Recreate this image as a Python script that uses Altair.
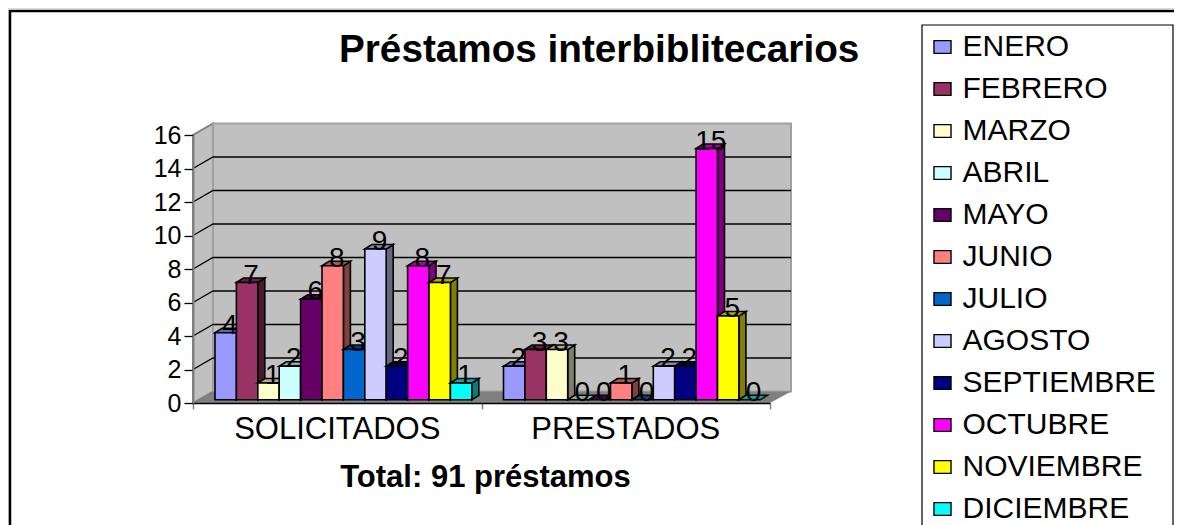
import altair as alt
import pandas as pd

months = ["ENERO", "FEBRERO", "MARZO", "ABRIL", "MAYO", "JUNIO", "JULIO", "AGOSTO",
          "SEPTIEMBRE", "OCTUBRE", "NOVIEMBRE", "DICIEMBRE"]
colors = ["#9999FF", "#993366", "#FFFFCC", "#CCFFFF", "#660066", "#FF8080", "#0066CC",
          "#CCCCFF", "#000080", "#FF00FF", "#FFFF00", "#00FFFF"]
categories = ["SOLICITADOS", "PRESTADOS"]
solicitados = [4, 7, 1, 2, 6, 8, 3, 9, 2, 8, 7, 1]
prestados = [2, 3, 3, 0, 0, 1, 0, 2, 2, 15, 5, 0]
y_ticks = [0, 2, 4, 6, 8, 10, 12, 14, 16]
FONT = "Liberation Sans"

# scale frames (chart pixels = page pixels - 8)
X0, X2, Y0, Y16 = 185, 762, 395, 127
ux = 2 / (X2 - X0)   # category units per pixel
uy = 16 / (Y0 - Y16) # value units per pixel
wall_dx, wall_dy = 20 * ux, 11.5 * uy
wall_r = 598 * ux
bar_dx, bar_dy = 7 * ux, 4.5 * uy
bar_start, bar_w, bar_base = 22 * ux, 21.4 * ux, 3.2 * uy


def shade(hex_color, k):
    r, g, b = (int(hex_color[i:i + 2], 16) for i in (1, 3, 5))
    return "#%02X%02X%02X" % (int(r * k), int(g * k), int(b * k))


domain = list(months)
rng = list(colors)
for m, c in zip(months, colors):
    domain += [m + "|side", m + "|top"]
    rng += [shade(c, 0.5), shade(c, 0.67)]

faces, labels = [], []
fid = 0
for g, series in enumerate([solicitados, prestados]):
    for i, v in enumerate(series):
        m = months[i]
        l = g + bar_start + i * bar_w
        r = l + bar_w
        b, t = bar_base, v + bar_base
        polys = []
        if v > 0:
            polys.append((m + "|side", [(r, b, t), (r + bar_dx, b + bar_dy, t + bar_dy)]))
        polys.append((m + "|top", [(l, t, t), (l + bar_dx, t, t + bar_dy),
                                    (r, t, t + bar_dy), (r + bar_dx, t + bar_dy, t + bar_dy)]))
        if v > 0:
            polys.append((m, [(l, b, t), (r, b, t)]))
        for key, pts in polys:
            for x, y, y2 in pts:
                faces.append({"id": fid, "face": key, "x": x, "y": y, "y2": y2})
            fid += 1
        labels.append({"x": l + bar_w / 2 + 4 * ux, "y": t - 1 * uy, "t": str(v)})
faces = pd.DataFrame(faces)
labels = pd.DataFrame(labels)

xs = alt.Scale(domain=[0, 2], range=[X0, X2], nice=False, zero=False)
ys = alt.Scale(domain=[0, 16], range=[Y0, Y16], nice=False, zero=False)
X = alt.X("x:Q", scale=xs, axis=alt.Axis(
    values=[0, 1, 2], labels=False, grid=False, offset=Y0 - 517, tickSize=6, tickColor="#808080",
    tickWidth=1.5, domainColor="#000000", domainWidth=1.5, title="Total: 91 préstamos", zindex=1,
    titleFont=FONT, titleFontSize=31, titleFontWeight="bold", titleColor="black",
    titleX=477, titleY=83, titleAnchor="middle", titleBaseline="alphabetic"))
Y = alt.Y("y:Q", scale=ys, axis=alt.Axis(
    values=y_ticks, grid=False, offset=-X0, tickSize=9, tickColor="black", tickWidth=1.3, zindex=1,
    domainColor="#808080", domainWidth=2, labelFont=FONT, labelFontSize=25, labelColor="black",
    labelPadding=3, title=None))

box = lambda **k: alt.Chart(alt.Data(values=[{"a": 1}])).mark_rect(**k)
frame = box(fill="white", stroke="#000000", strokeWidth=2.5).encode(
    x=alt.value(2), x2=alt.value(1400), y=alt.value(3), y2=alt.value(800))
legend_box = box(fill="white", stroke="#000000", strokeWidth=1.2).encode(
    x=alt.value(914), x2=alt.value(1165), y=alt.value(17), y2=alt.value(800))

left_wall = alt.Chart(pd.DataFrame({"x": [0, wall_dx], "y": [0, wall_dy], "y2": [16, 16 + wall_dy]})).mark_area(
    orient="vertical", color="#C0C0C0", stroke="#808080", strokeWidth=2).encode(x=X, y=Y, y2="y2:Q")
back_wall = alt.Chart(pd.DataFrame({"x": [wall_dx, wall_r], "y": [wall_dy, wall_dy], "y2": [16 + wall_dy] * 2})).mark_area(
    orient="vertical", color="#C0C0C0", stroke="#A0A0A0", strokeWidth=2).encode(x=X, y=Y, y2="y2:Q")

grid_rows = []
for v in y_ticks[1:-1]:
    grid_rows += [{"x": 0, "y": v, "v": v}, {"x": wall_dx, "y": v + wall_dy, "v": v},
                  {"x": wall_r, "y": v + wall_dy, "v": v}]
grid = alt.Chart(pd.DataFrame(grid_rows)).mark_line(color="black", strokeWidth=1.3).encode(
    x=X, y=Y, detail="v:N")

floor = alt.Chart(pd.DataFrame({"x": [0, wall_dx, 2, wall_r], "y": [0, 0, 0, wall_dy],
                                "y2": [0, wall_dy, wall_dy, wall_dy]})).mark_area(
    orient="vertical", color="#808080").encode(x=X, y=Y, y2="y2:Q")

bars = alt.Chart(faces).mark_area(orient="vertical", stroke="black", strokeWidth=1.6).encode(
    x=X, y=Y, y2="y2:Q", detail="id:N",
    color=alt.Color("face:N", scale=alt.Scale(domain=domain, range=rng), legend=alt.Legend(
        values=months, title=None, orient="none", legendX=919.5, legendY=18, padding=0,
        symbolType="M-1,-0.75H1V0.75H-1Z", symbolSize=290, symbolStrokeColor="black", symbolStrokeWidth=1.4,
        symbolOpacity=1, labelFont=FONT, labelFontSize=30, labelColor="black", labelOffset=5,
        clipHeight=42, rowPadding=0, labelLimit=260)))

value_text = alt.Chart(labels).mark_text(font=FONT, fontSize=28, color="black", baseline="alphabetic").encode(
    x=X, y=Y, text="t:N")

cat_text = alt.Chart(pd.DataFrame({"x": [0.5, 1.5], "t": categories})).mark_text(
    font=FONT, fontSize=31, color="black", baseline="alphabetic").encode(x=X, y=alt.value(431), text="t:N")

chart = alt.layer(frame, legend_box, left_wall, back_wall, grid, floor, bars, value_text, cat_text).properties(
    width=1166, height=517, padding=0, autosize=alt.AutoSizeParams(type="none"),
    title=alt.TitleParams("Préstamos interbiblitecarios", font=FONT, fontSize=38.7, fontWeight="bold",
                          color="black", anchor="start", dx=331, offset=-93, baseline="alphabetic", frame="group"),
).configure_view(stroke=None).configure(background="white")

chart.save("out.html", embed_options={"renderer": "svg", "actions": False})
